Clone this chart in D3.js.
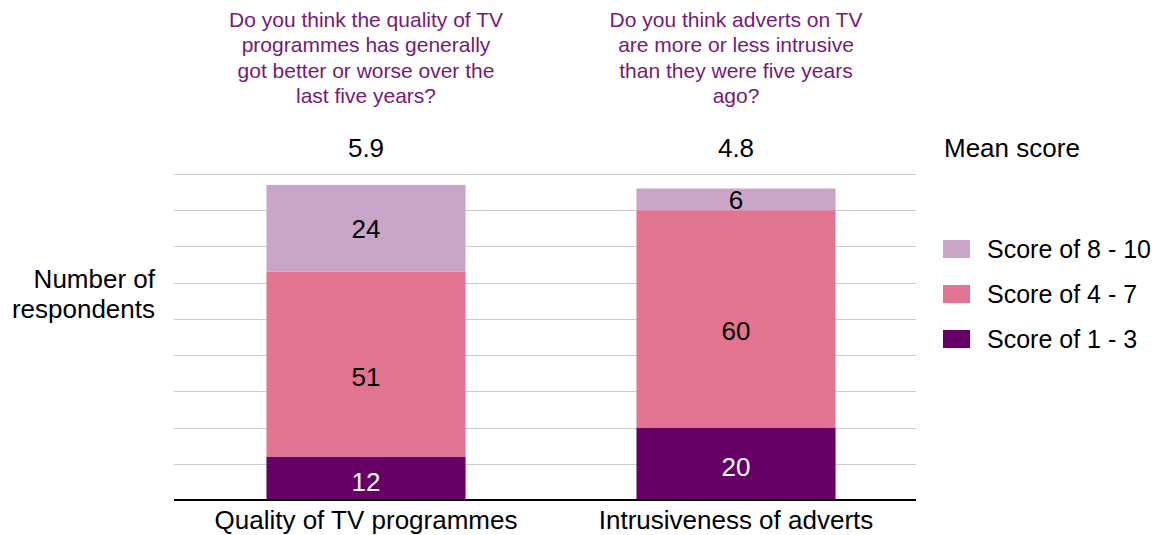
<!DOCTYPE html>
<html>
<head>
<meta charset="utf-8">
<script src="https://cdn.jsdelivr.net/npm/d3@7"></script>
<style>
  html, body { margin: 0; padding: 0; background: #fff; }
  svg { display: block; font-family: "Liberation Sans", Arial, sans-serif; }
</style>
</head>
<body>
<svg id="chart" width="1161" height="535"></svg>
<script>
// Survey categories and stacked counts (bottom to top: 1-3, 4-7, 8-10)
const categories = ["Quality of TV programmes", "Intrusiveness of adverts"];
const questions = [
  ["Do you think the quality of TV", "programmes has generally", "got better or worse over the", "last five years?"],
  ["Do you think adverts on TV", "are more or less intrusive", "than they were five years", "ago?"]
];
const meanScores = ["5.9", "4.8"];
const seriesNames = ["Score of 1 - 3", "Score of 4 - 7", "Score of 8 - 10"];
const low = [12, 20];
const mid = [51, 60];
const high = [24, 6];
const seriesColors = ["#660066", "#e17490", "#c9a5c9"];
const labelColors = ["#ffffff", "#000000", "#000000"];
const labelNudge = [3, 12, 0];
const gridTicks = [10, 20, 30, 40, 50, 60, 70, 80, 90];

const rows = categories.map((c, i) => ({
  cat: c,
  "Score of 1 - 3": low[i],
  "Score of 4 - 7": mid[i],
  "Score of 8 - 10": high[i]
}));

const svg = d3.select("#chart");
const plotLeft = 174, plotRight = 916, plotTop = 174, plotBottom = 500;
const fs = 26;

const x = d3.scaleBand().domain(categories).range([181, 921])
  .paddingInner(0.462).paddingOuter(0.231);
const y = d3.scaleLinear().domain([0, 90]).range([plotBottom, plotTop]);
const color = d3.scaleOrdinal().domain(seriesNames).range(seriesColors);

// Horizontal gridlines
svg.append("g")
  .selectAll("line")
  .data(gridTicks)
  .join("line")
  .attr("x1", plotLeft).attr("x2", plotRight)
  .attr("y1", d => Math.round(y(d)) + 0.5).attr("y2", d => Math.round(y(d)) + 0.5)
  .attr("stroke", "#cccccc").attr("stroke-width", 1.2);

// Stacked bars
const stacked = d3.stack().keys(seriesNames)(rows);
const layers = svg.append("g").selectAll("g")
  .data(stacked)
  .join("g")
  .attr("fill", d => color(d.key));

layers.selectAll("rect")
  .data(d => d.map(p => ({ p, key: d.key })))
  .join("rect")
  .attr("x", d => x(d.p.data.cat))
  .attr("width", x.bandwidth())
  .attr("y", d => y(d.p[1]))
  .attr("height", d => y(d.p[0]) - y(d.p[1]));

// Segment value labels
stacked.forEach((layer, li) => {
  svg.append("g").selectAll("text")
    .data(layer)
    .join("text")
    .attr("x", d => x(d.data.cat) + x.bandwidth() / 2)
    .attr("y", d => (y(d[0]) + y(d[1])) / 2 + labelNudge[li])
    .attr("dy", "0.36em")
    .attr("text-anchor", "middle")
    .attr("font-size", fs)
    .attr("fill", labelColors[li])
    .text(d => d[1] - d[0]);
});

// Baseline axis with category labels
const xAxis = svg.append("g")
  .attr("transform", `translate(0,${plotBottom})`)
  .call(d3.axisBottom(x).tickSize(0).tickPadding(0));
xAxis.select(".domain").remove();
xAxis.selectAll("text")
  .attr("font-size", fs)
  .attr("font-family", "Liberation Sans, Arial, sans-serif")
  .attr("fill", "#000")
  .attr("dy", null)
  .attr("y", 29);
svg.append("line")
  .attr("x1", plotLeft).attr("x2", plotRight)
  .attr("y1", plotBottom).attr("y2", plotBottom)
  .attr("stroke", "#000").attr("stroke-width", 2);

// Y axis title
const yTitle = svg.append("text")
  .attr("text-anchor", "end")
  .attr("font-size", fs)
  .attr("fill", "#000");
yTitle.append("tspan").attr("x", 155).attr("y", 288).text("Number of");
yTitle.append("tspan").attr("x", 155).attr("y", 318).text("respondents");

// Questions above each bar
questions.forEach((lines, i) => {
  const t = svg.append("text")
    .attr("text-anchor", "middle")
    .attr("font-size", 21)
    .attr("fill", "#761a76");
  lines.forEach((ln, j) => {
    t.append("tspan")
      .attr("x", x(categories[i]) + x.bandwidth() / 2)
      .attr("y", 27 + j * 25.3)
      .text(ln);
  });
});

// Mean scores
svg.append("g").selectAll("text")
  .data(categories)
  .join("text")
  .attr("x", d => x(d) + x.bandwidth() / 2)
  .attr("y", 157)
  .attr("text-anchor", "middle")
  .attr("font-size", fs)
  .attr("fill", "#000")
  .text((d, i) => meanScores[i]);
svg.append("text")
  .attr("x", 944).attr("y", 157)
  .attr("font-size", fs)
  .attr("fill", "#000")
  .text("Mean score");

// Legend (top entry = highest score band)
const legendItems = seriesNames.slice().reverse();
const legend = svg.append("g").selectAll("g")
  .data(legendItems)
  .join("g")
  .attr("transform", (d, i) => `translate(943,${240 + i * 45})`);
legend.append("rect")
  .attr("width", 27).attr("height", 18)
  .attr("fill", d => color(d));
legend.append("text")
  .attr("x", 44).attr("y", 18)
  .attr("font-size", 25)
  .attr("fill", "#000")
  .text(d => d);
</script>
</body>
</html>
